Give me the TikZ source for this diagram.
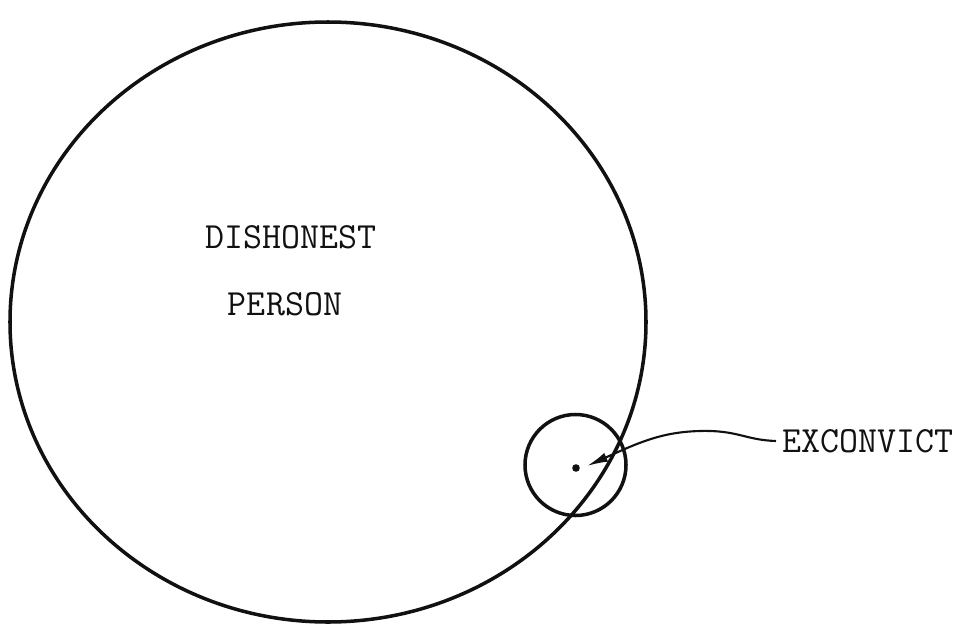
\documentclass[tikz,border=0pt]{standalone}
\usepackage{fontspec}
\usetikzlibrary{arrows.meta,positioning}
\definecolor{ink}{HTML}{111111}
\tikzset{
  every node/.style={font=\ttfamily\fontsize{21}{25}\selectfont, text=ink},
  ring/.style={draw=ink, line width=2pt},
  lead/.style={draw=ink, line width=1.2pt, -{Latex[length=4.2mm, width=1.9mm]}},
  lbl/.style={inner sep=0.3333em},
}

\begin{document}
\begin{tikzpicture}[x=0.02cm, y=-0.02cm]
\useasboundingbox (0,0) rectangle (971,629);

% --- sets ---
\coordinate (big) at (328,322);
\coordinate (small) at (575.5,465);
\draw[ring] (big) ellipse [x radius=318, y radius=300];
\draw[ring] (small) circle [radius=50.5];

\node[lbl] (dis) at (291,237) {DISHONEST};
\node[lbl] (per) at (285,304) {PERSON};

% --- pointer ---
\coordinate (dot) at (576,468);
\coordinate (hit) at (587,466);
\fill[ink] (dot) circle [radius=3.8];
\node[lbl, anchor=west] (ex) at (776,441) {EXCONVICT};
\draw[lead] (ex.west) .. controls (745,440) and (738,430) .. (700,431)
  .. controls (662,432) and (640,442) .. (hit);

\end{tikzpicture}
\end{document}
